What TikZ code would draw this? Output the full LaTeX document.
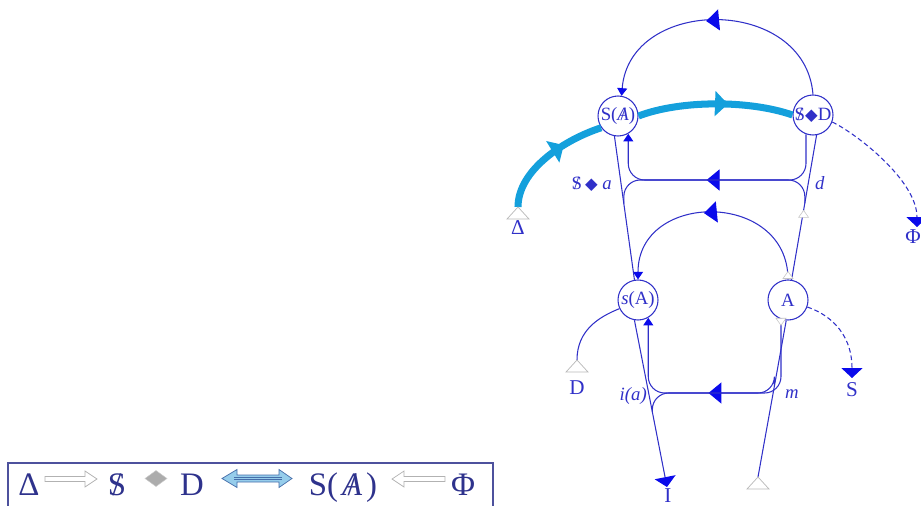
\documentclass[tikz,border=0pt]{standalone}
\usepackage{fontspec}
\setmainfont{Liberation Serif}
\newfontfamily\symfont{DejaVu Sans}
\usetikzlibrary{arrows.meta,decorations.markings,calc}

\definecolor{lineblue}{RGB}{48,48,200}
\definecolor{tipblue}{RGB}{10,10,235}
\definecolor{cyanline}{RGB}{20,160,220}
\definecolor{navy}{RGB}{46,50,140}
\definecolor{palecyan}{RGB}{150,205,235}
\definecolor{steel}{RGB}{70,110,170}

\newcommand{\crossS}{\ooalign{S\cr\hidewidth/\hidewidth\cr}}
\newcommand{\crossA}{\ooalign{\textit{A}\cr\hidewidth/\hidewidth\cr}}
\newcommand{\dmd}{{\symfont\fontsize{14}{15}\selectfont ◆}}

\tikzset{
  agent/.style={circle,draw=lineblue,fill=white,line width=0.9pt,minimum size=1.2cm,inner sep=0pt,text=lineblue,font=\fontsize{16}{18}\selectfont},
  link/.style={draw=lineblue,line width=0.9pt},
  lbl/.style={text=lineblue,font=\fontsize{18}{20}\selectfont,inner sep=0pt},
  tag/.style={text=lineblue,font=\fontsize{16}{18}\selectfont,inner sep=0pt},
  legend/.style={text=navy,font=\fontsize{28}{31}\selectfont,inner sep=0pt,anchor=base},
  midtip/.style={postaction={decorate},decoration={markings,mark=at position #1 with {\arrow{Triangle[length=11pt,width=18pt,color=tipblue]}}}},
  cyantip/.style={postaction={decorate},decoration={markings,mark=at position #1 with {\arrow{Triangle[length=11pt,width=21pt,color=cyanline]}}}},
  endtip/.style={-{Triangle[length=6.5pt,width=8.5pt,color=tipblue]}},
  sinktip/.style={-{Triangle[length=8.5pt,width=18pt,color=tipblue]}},
  opentri/.pic={\draw[gray!55,fill=white,line width=0.6pt] (0,0) -- (11,12) -- (-11,12) -- cycle;},
  smalltri/.pic={\draw[gray!45,fill=white,line width=0.5pt] (0,0) -- (5,7) -- (-5,7) -- cycle;},
}

\begin{document}
\begin{tikzpicture}[x=0.03cm,y=-0.03cm]
\useasboundingbox (0,0) rectangle (921,506);
\clip (0,0) rectangle (921,506);

\node[agent] (SA) at (618,116) {S(\crossA)};
\node[agent] (SD) at (813,115) {\crossS\dmd D};
\node[agent] (sA) at (638,300) {\textit{s}(A)};
\node[agent] (A) at (788,300) {A};

\coordinate (Delta) at (518,207);
\coordinate (Dsrc) at (577,360);
\coordinate (Phi) at (917,227);
\coordinate (Ssink) at (852,378);
\coordinate (Isink) at (667,487);
\coordinate (Msrc) at (758,477);
\coordinate (rungU) at (717,180);
\coordinate (rungL) at (715,393);

\draw[cyanline,line width=6pt,cyantip=0.66] (Delta) .. controls +(0,-37) and +(-37,12) .. (SA.215);
\draw[cyanline,line width=6pt,cyantip=0.58] (SA.east) .. controls +(42,-16) and +(-43,-15) .. (SD.west);

\draw[link,midtip=0.54,endtip] (SD.north) .. controls +(-8,-99) and +(8,-100) .. (SA.80);
\draw[link,midtip=0.54,endtip] (A.north) .. controls +(0,-89) and +(0,-89) .. (sA.north);

\draw[link] (SA.-100) -- (sA.100);
\draw[link] (SD.-80) -- (A.80);
\draw[link,sinktip] (sA.-100) -- (Isink);
\draw[link] (Msrc) -- (A.-95);

\coordinate (kUL) at ($(SA.-100)!0.47!(sA.100)$);
\coordinate (kUR) at ($(SD.-80)!0.47!(A.80)$);
\coordinate (kLL) at ($(sA.-100)!0.55!(Isink)$);
\coordinate (kLR) at ($(A.-95)!0.42!(Msrc)$);

\draw[link,rounded corners=14pt,midtip=0.54,endtip] (SD.-110) |- (rungU) -| (SA.-60);
\draw[link,rounded corners=14pt] (rungU) -| (kUL);
\draw[link,rounded corners=14pt] (rungU) -| (kUR);

\draw[link,rounded corners=14pt,midtip=0.52,endtip] (A.-110) |- (rungL) -| (sA.-60);
\draw[link,rounded corners=14pt] (rungL) -| (kLL);
\draw[link,rounded corners=14pt] (rungL) -| (kLR);

\draw[link,dash pattern=on 4pt off 2.5pt,sinktip] (SD.-20) .. controls +(23,11) and +(0,-47) .. (Phi);
\draw[link,dash pattern=on 4pt off 2.5pt,sinktip] (A.-20) .. controls +(18,6) and +(0,-48) .. (Ssink);
\draw[link] (sA.205) .. controls +(-20,8) and +(0,-30) .. (Dsrc);

\pic at (Delta) {opentri};
\pic at (Dsrc) {opentri};
\pic at (Msrc) {opentri};
\pic at ($(SD.-80)!0.52!(A.80)$) {smalltri};
\pic at ($(A.north)+(0,-8)$) {smalltri};
\pic[rotate=180] at ($(A.-110)+(0,6)$) {smalltri};

\node[lbl] (lDelta) at (518,228) {Δ};
\node[lbl] (lD) at (577,388) {D};
\node[lbl] (lS) at (852,390) {S};
\node[lbl] (lI) at (668,496) {I};
\node[lbl] (lPhi) at (913,237) {Φ};
\node[tag,anchor=base east] (lSa) at (612,189) {\crossS\,\dmd\ \textit{a}};
\node[tag,anchor=base west] (ld) at (815,189) {\textit{d}};
\node[tag,anchor=base east] (lia) at (647,400) {\textit{i(a)}};
\node[tag,anchor=base west] (lm) at (785,398) {\textit{m}};

\draw[navy!85,line width=1pt] (8,463) rectangle (493,515);
\node[legend] (gDelta) at (29,495) {Δ};
\draw[gray!60,fill=white,line width=0.6pt] (45,476.5) -- (85,476.5) -- (85,471) -- (97,479) -- (85,487) -- (85,481.5) -- (45,481.5) -- cycle;
\node[legend] (gS) at (117,495) {\crossS};
\draw[gray!40,fill=gray!65] (156,470.5) -- (167,478.5) -- (156,486.5) -- (145,478.5) -- cycle;
\node[legend] (gD) at (192,495) {D};
\draw[steel,fill=palecyan,line width=0.6pt] (222,478.5) -- (237,469.5) -- (237,475) -- (279,475) -- (279,469.5) -- (292,478.5) -- (279,487.5) -- (279,482) -- (237,482) -- (237,487.5) -- cycle;
\draw[steel,line width=0.6pt] (234,477.3) -- (282,477.3) (234,479.7) -- (282,479.7);
\node[legend] (gSA) at (343,495) {S(\kern0.12em\crossA\kern0.12em)};
\draw[gray!60,fill=white,line width=0.6pt] (445,476.5) -- (404,476.5) -- (404,471) -- (392,479) -- (404,487) -- (404,481.5) -- (445,481.5) -- cycle;
\node[legend] (gPhi) at (463,495) {Φ};
\end{tikzpicture}
\end{document}
